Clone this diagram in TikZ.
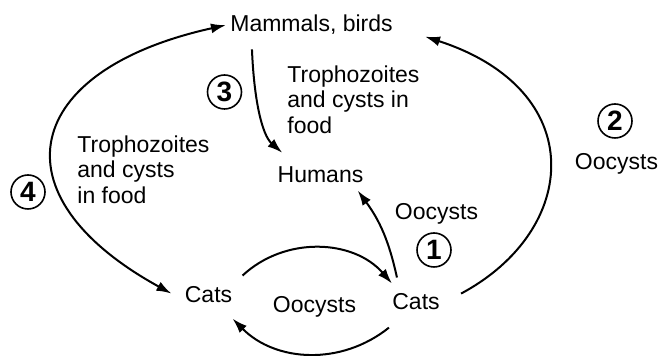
\documentclass[tikz,border=0pt]{standalone}
\usepackage{fontspec}
\setmainfont{Liberation Sans}
\usetikzlibrary{arrows.meta,calc}

\begin{document}
\begin{tikzpicture}[x=0.5pt,y=-0.5pt,
    every node/.style={font=\fontsize{11.5}{12.75}\selectfont},
    host/.style={anchor=base,inner sep=2pt},
    note/.style={anchor=north west,inner sep=0pt,align=left},
    num/.style={circle,draw,line width=0.8pt,minimum size=17pt,inner sep=0pt,
      font=\fontsize{14}{14}\selectfont\bfseries},
    link/.style={line width=1pt,-{Latex[length=7.5pt,width=5pt]}}]
    \useasboundingbox (0,0) rectangle (663,356);
    % hosts
    \node[host] (mam) at (311.5,32) {Mammals, birds};
    \node[host] (hum) at (320.5,183) {Humans};
    \node[host] (catL) at (208.5,303) {Cats};
    \node[host] (catR) at (416,310) {Cats};
    % labels
    \node[host] (ooMid) at (314.5,313) {Oocysts};
    \node[host] (ooOne) at (436.5,220) {Oocysts};
    \node[host] (ooTwo) at (616.5,170) {Oocysts};
    \node[note] (foodR) at (287,65) {Trophozoites\\and cysts in\\food};
    \node[note] (foodL) at (77,135) {Trophozoites\\and cysts\\in food};
    \node[num] (n1) at (434,250) {1};
    \node[num] (n2) at (615,121) {2};
    \node[num] (n3) at (224.5,92) {3};
    \node[num] (n4) at (28,192) {4};
    % routes
    \draw[link] ([xshift=4.5pt,yshift=6pt]catR.north west) to[bend right=12] ([xshift=-5pt,yshift=-1.5pt]hum.south east);
    \draw[link] ([xshift=8.5pt,yshift=4.25pt]catR.east) .. controls (580,230) and (590,90) .. ([xshift=14pt,yshift=-5.75pt]mam.east);
    \draw[link] ([xshift=13pt,yshift=-5pt]mam.south west) .. controls (254,100) and (262,135) .. ([xshift=4.5pt,yshift=5pt]hum.north west);
    \draw[link,{Latex[length=7.5pt,width=5pt]}-{Latex[length=7.5pt,width=5pt]}] (mam.west) .. controls (22,70) and (-8,195) .. ([xshift=-4.5pt,yshift=0.75pt]catL.west);
    \draw[link] ([xshift=3pt,yshift=3.5pt]catL.north east) to[bend left=46] ([xshift=2pt,yshift=3pt]catR.north west);
    \draw[link] ([xshift=0.5pt,yshift=-6.5pt]catR.south west) to[bend left=42] ([xshift=-2pt,yshift=-5.5pt]catL.south east);
\end{tikzpicture}
\end{document}
